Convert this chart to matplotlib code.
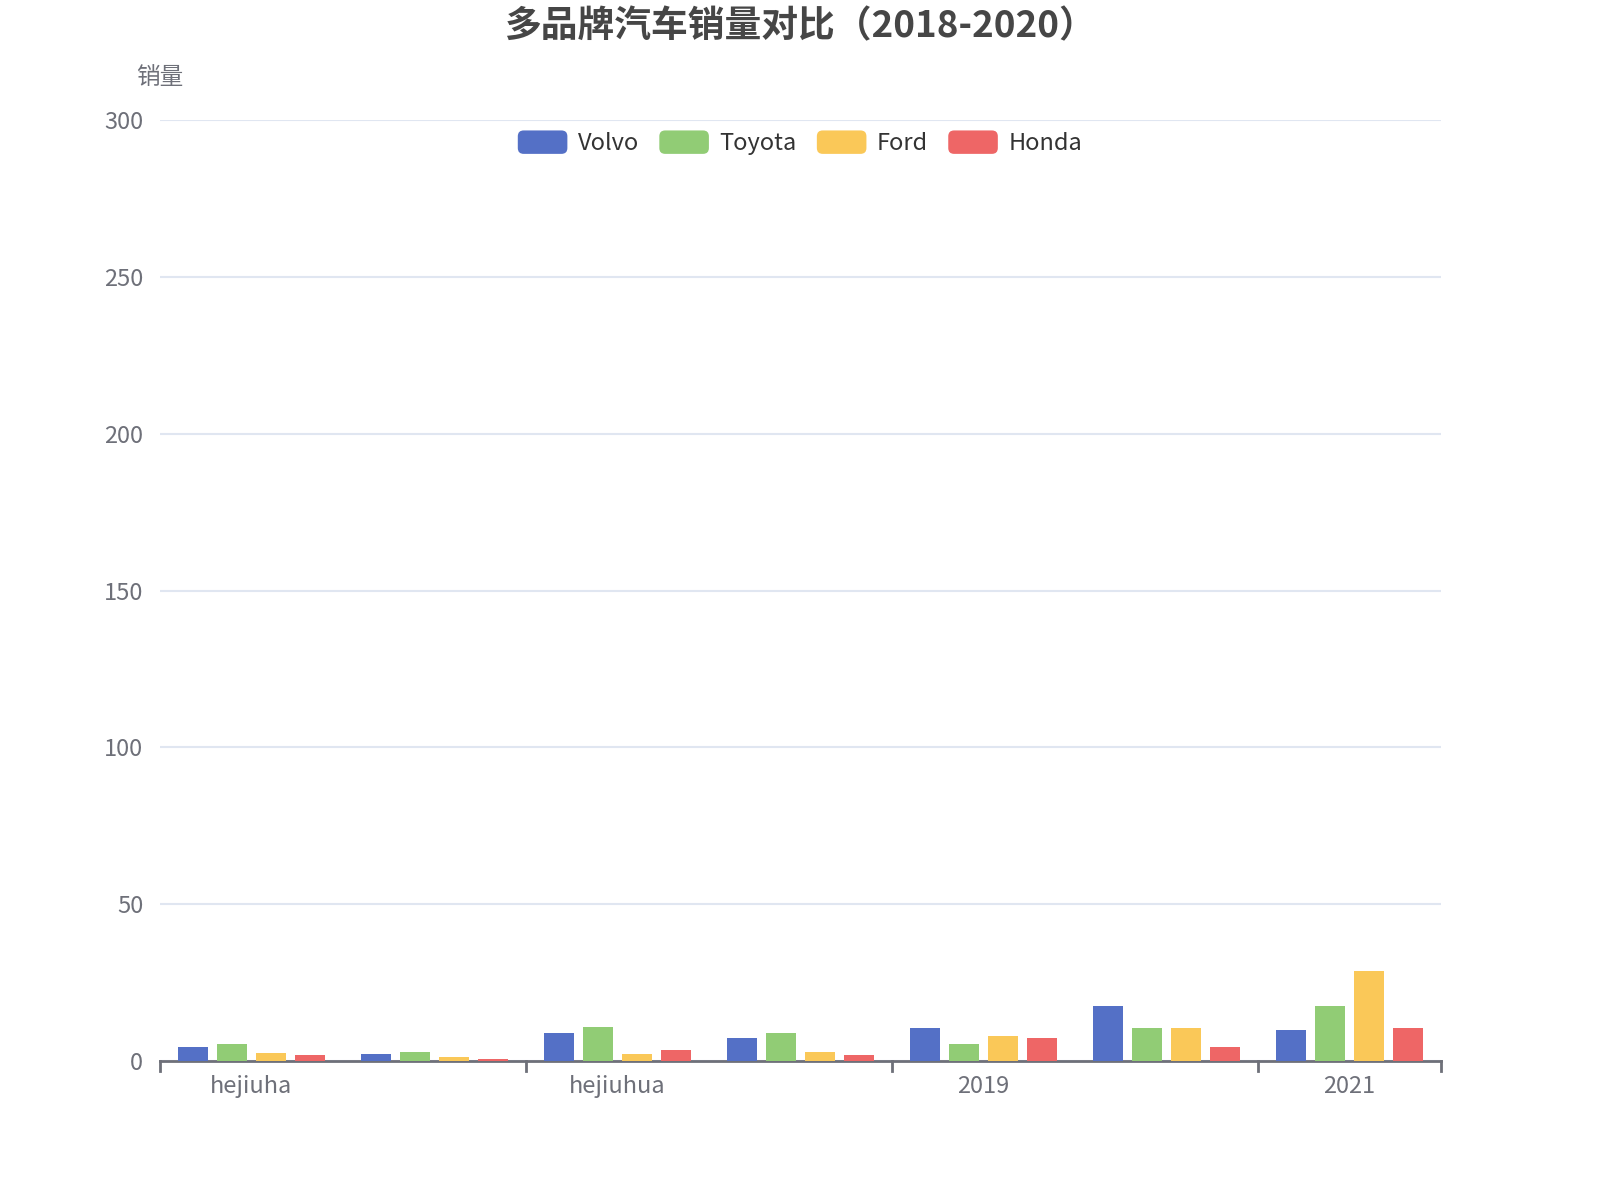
import matplotlib
matplotlib.use("Agg")
import matplotlib.pyplot as plt
import numpy as np
from matplotlib.patches import FancyBboxPatch
from matplotlib.legend_handler import HandlerPatch

plt.rcParams['font.family'] = ['Noto Sans CJK SC', 'DejaVu Sans']

# datos
categorias = ['hejiuha', '2017', 'hejiuhua', '2018', '2019', '2020', '2021']
marcas = ['Volvo', 'Toyota', 'Ford', 'Honda']
volvo = [4.5, 2.1, 8.8, 7.2, 10.5, 17.4, 9.7]
toyota = [5.4, 2.7, 10.7, 8.8, 5.4, 10.5, 17.4]
ford = [2.4, 1.2, 2.1, 2.7, 7.9, 10.5, 28.5]
honda = [1.8, 0.7, 3.4, 2.0, 7.2, 4.5, 10.5]
yticks = [0, 50, 100, 150, 200, 250, 300]

colores = ['#5470c6', '#91cc75', '#fac858', '#ee6666']
gris = '#6E7079'


class HandlerRedondo(HandlerPatch):
    def create_artists(self, legend, orig_handle, xdescent, ydescent,
                       width, height, fontsize, trans):
        p = FancyBboxPatch((-xdescent, -ydescent), width, height,
                           boxstyle='round,pad=0,rounding_size=%f' % (height * 0.25),
                           facecolor=orig_handle.get_facecolor(),
                           edgecolor='none', transform=trans)
        return [p]


fig = plt.figure(figsize=(16, 12), dpi=100)
ax = fig.add_axes([0.1, 0.116, 0.8006, 0.7837])

n = len(categorias)
x = np.arange(n)
ancho = 0.8 / 4.9
paso = ancho * 1.3
series = [volvo, toyota, ford, honda]
barras = []
for i, (serie, c) in enumerate(zip(series, colores)):
    off = (i - 1.5) * paso
    b = ax.bar(x + off, serie, width=ancho, color=c, label=marcas[i], zorder=3)
    barras.append(b)

ax.set_xlim(-0.5, n - 0.5)
ax.set_ylim(0, 300)
ax.set_yticks(yticks)
ax.yaxis.grid(True, color='#E0E6F1', linewidth=1.5, zorder=0)
ax.tick_params(axis='y', length=0, pad=12, labelsize=17, labelcolor=gris)

for s in ['top', 'right', 'left']:
    ax.spines[s].set_visible(False)
ax.spines['bottom'].set_color(gris)
ax.spines['bottom'].set_linewidth(2)

# etiquetas cada dos categorias, ticks en los bordes
ax.set_xticks(x[::2])
ax.set_xticklabels(categorias[::2])
ax.tick_params(axis='x', length=0, pad=10, labelsize=17, labelcolor=gris)
bordes = [-0.5, 1.5, 3.5, 5.5, n - 0.5]
for b in bordes:
    ax.plot([b, b], [0, -3.2], color=gris, lw=2, clip_on=False, zorder=4)

fig.text(0.5, 0.978, '多品牌汽车销量对比（2018-2020）', ha='center', va='center',
         fontsize=26.5, fontweight='bold', color='#464646')
fig.text(0.1, 0.935, '销量', ha='center', va='center', fontsize=17, color=gris)

leg = fig.legend(handles=[b.patches[0] for b in barras], labels=marcas,
                 loc='center', bbox_to_anchor=(0.5, 0.881), ncol=4, frameon=False,
                 fontsize=17, handlelength=2.1, handleheight=1.15,
                 handletextpad=0.45, columnspacing=0.85,
                 handler_map={matplotlib.patches.Rectangle: HandlerRedondo()})
for t in leg.get_texts():
    t.set_color('#333333')

fig.savefig('out.png', dpi=100)
